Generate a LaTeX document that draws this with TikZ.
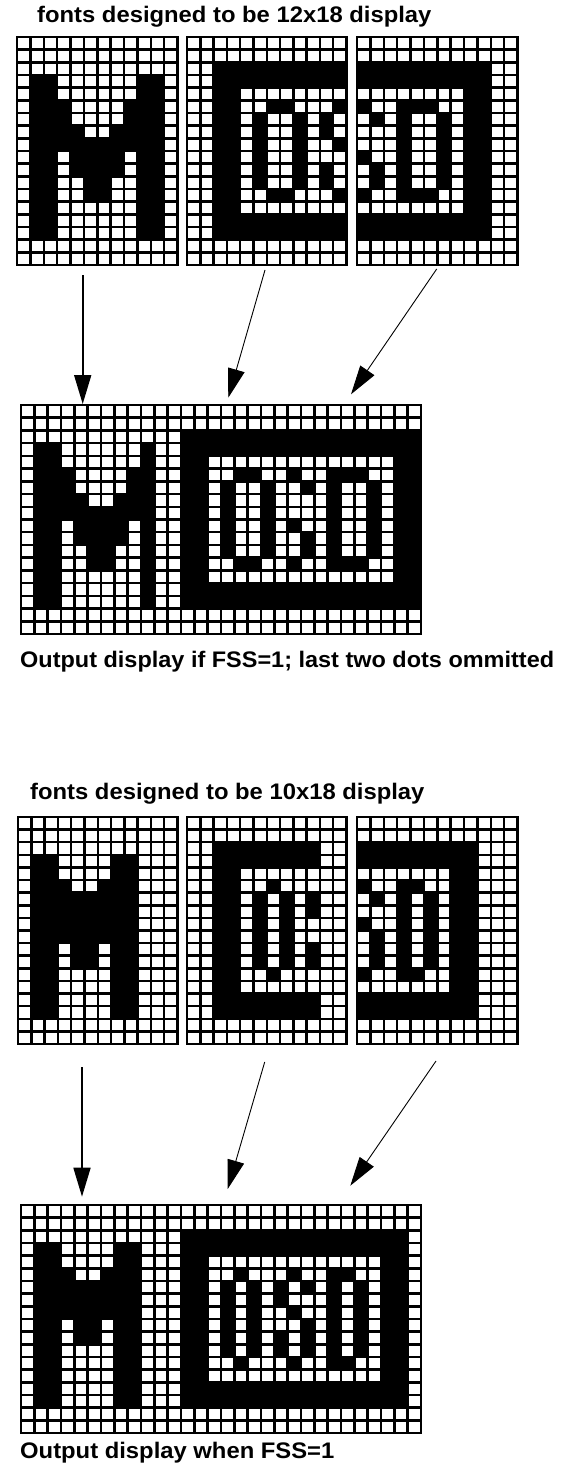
\documentclass[tikz,border=0pt]{standalone}
\usepackage{fontspec}
\setmainfont{Liberation Sans}
\usetikzlibrary{arrows.meta}
\tikzset{
  gridline/.style={draw=black,line width=2.5pt,line cap=rect},
  gridframe/.style={gridline,rectangle,fill=none,inner sep=0pt,outer sep=0pt,anchor=north west},
  caption/.style={anchor=base west,inner sep=0pt,font=\bfseries\fontsize{22.5}{25}\selectfont,text=black,xscale=#1,transform shape},
  caption/.default=1.058,
  thickarrow/.style={draw=black,line width=1.7pt,-{Triangle[length=29pt,width=17pt]}},
  thinarrow/.style={draw=black,line width=0.9pt,-{Triangle[length=29pt,width=17pt]}}
}
\newcount\cellcol
\def\parserow#1{\ifx#1;\else\if#1X\fill[black] (\the\cellcol,\ri) rectangle ++(1,1);\fi\global\advance\cellcol by 1 \expandafter\parserow\fi}
% name, x0, y0, x1, y1, cols, rows
\newcommand{\pixgrid}[7]{%
  \pgfmathsetmacro{\gw}{(#4-#2)/#6}%
  \pgfmathsetmacro{\gh}{(#5-#3)/18}%
  \begin{scope}[shift={(#2,#3)},x=\gw pt,y=-\gh pt]
    \foreach \rowstr [count=\ri from 0] in {#7}{%
      \global\cellcol=0 \expandafter\parserow\rowstr;%
    }
    \foreach \i in {1,...,#6}{\draw[gridline,line cap=butt] (\i,0) -- (\i,18);}
    \foreach \j in {1,...,17}{\draw[gridline,line cap=butt] (0,\j) -- (#6,\j);}
  \end{scope}
  \pgfmathsetmacro{\fw}{#4-#2}\pgfmathsetmacro{\fh}{#5-#3}%
  \node[gridframe,minimum width=\fw pt,minimum height=\fh pt] (#1) at (#2,#3) {};
}
\begin{document}
\begin{tikzpicture}[x=1pt,y=-1pt]
\useasboundingbox (0,0) rectangle (578,1463);
\fill[white] (0,0) rectangle (578,1463);

\node[caption] (title1) at (37,22.5) {fonts designed to be 12x18 display};
\pixgrid{gA}{17}{37}{177.5}{265}{12}{
oooooooooooo,oooooooooooo,oooooooooooo,
oXXooooooXXo,oXXooooooXXo,oXXXooooXXXo,oXXXooooXXXo,oXXXXooXXXXo,oXXXXXXXXXXo,
oXXoXXXXoXXo,oXXoXXXXoXXo,oXXooXXooXXo,oXXooXXooXXo,
oXXooooooXXo,oXXooooooXXo,oXXooooooXXo,oooooooooooo,oooooooooooo}
\pixgrid{gB}{187}{37}{346.5}{265}{12}{
oooooooooooo,oooooooooooo,ooXXXXXXXXXX,ooXXXXXXXXXX,ooXXoooooooo,
ooXXooXXoooX,ooXXoXooXoXo,ooXXoXooXoXo,ooXXoXooXooX,ooXXoXooXooo,
ooXXoXooXoXo,ooXXoXooXoXo,ooXXooXXoooX,ooXXoooooooo,
ooXXXXXXXXXX,ooXXXXXXXXXX,oooooooooooo,oooooooooooo}
\pixgrid{gC}{357}{37}{517.5}{265}{12}{
oooooooooooo,oooooooooooo,XXXXXXXXXXoo,XXXXXXXXXXoo,ooooooooXXoo,
XooXXXooXXoo,oXoXooXoXXoo,oooXooXoXXoo,oooXooXoXXoo,XooXooXoXXoo,
oXoXooXoXXoo,oXoXooXoXXoo,XooXXXooXXoo,ooooooooXXoo,
XXXXXXXXXXoo,XXXXXXXXXXoo,oooooooooooo,oooooooooooo}
\pixgrid{gD}{21}{405}{421}{634}{30}{
oooooooooooooooooooooooooooooo,oooooooooooooooooooooooooooooo,
ooooooooooooXXXXXXXXXXXXXXXXXX,
oXXooooooXooXXXXXXXXXXXXXXXXXX,
oXXooooooXooXXooooooooooooooXX,
oXXXooooXXooXXooXXooXooXXXooXX,
oXXXooooXXooXXoXooXooXoXooXoXX,
oXXXXooXXXooXXoXooXooooXooXoXX,
oXXXXXXXXXooXXoXooXooooXooXoXX,
oXXoXXXXoXooXXoXooXoXooXooXoXX,
oXXoXXXXoXooXXoXooXooXoXooXoXX,
oXXooXXooXooXXoXooXooXoXooXoXX,
oXXooXXooXooXXooXXooXooXXXooXX,
oXXooooooXooXXooooooooooooooXX,
oXXooooooXooXXXXXXXXXXXXXXXXXX,
oXXooooooXooXXXXXXXXXXXXXXXXXX,
oooooooooooooooooooooooooooooo,oooooooooooooooooooooooooooooo}
\node[caption=1.043] (output1) at (20,667) {Output display if FSS=1; last two dots ommitted};

\node[caption] (title2) at (30,799.5) {fonts designed to be 10x18 display};
\pixgrid{gE}{18}{817}{177.5}{1044}{12}{
oooooooooooo,oooooooooooo,oooooooooooo,
oXXooooXXooo,oXXooooXXooo,oXXXooXXXooo,
oXXXXXXXXooo,oXXXXXXXXooo,oXXXXXXXXooo,oXXXXXXXXooo,
oXXoXXoXXooo,oXXoXXoXXooo,
oXXooooXXooo,oXXooooXXooo,oXXooooXXooo,oXXooooXXooo,
oooooooooooo,oooooooooooo}
\pixgrid{gF}{187}{817}{346.5}{1044}{12}{
oooooooooooo,oooooooooooo,ooXXXXXXXXoo,ooXXXXXXXXoo,ooXXoooooooo,
ooXXooXooooo,ooXXoXoXoXoo,ooXXoXoXoXoo,ooXXoXoXoooo,ooXXoXoXoooo,
ooXXoXoXoXoo,ooXXoXoXoXoo,ooXXooXooooo,ooXXoooooooo,
ooXXXXXXXXoo,ooXXXXXXXXoo,oooooooooooo,oooooooooooo}
\pixgrid{gG}{357}{817}{517.5}{1044}{12}{
oooooooooooo,oooooooooooo,XXXXXXXXXooo,XXXXXXXXXooo,oooooooXXooo,
XooXXooXXooo,oXoXoXoXXooo,oooXoXoXXooo,XooXoXoXXooo,oXoXoXoXXooo,
oXoXoXoXXooo,oXoXoXoXXooo,XooXXooXXooo,oooooooXXooo,
XXXXXXXXXooo,XXXXXXXXXooo,oooooooooooo,oooooooooooo}
\pixgrid{gH}{21}{1205}{421}{1433}{30}{
oooooooooooooooooooooooooooooo,oooooooooooooooooooooooooooooo,
ooooooooooooXXXXXXXXXXXXXXXXXo,
oXXooooXXoooXXXXXXXXXXXXXXXXXo,
oXXooooXXoooXXoooooooooooooXXo,
oXXXooXXXoooXXooXoooXooXXooXXo,
oXXXXXXXXoooXXoXoXoXoXoXoXoXXo,
oXXXXXXXXoooXXoXoXoXoooXoXoXXo,
oXXXXXXXXoooXXoXoXooXooXoXoXXo,
oXXoXXoXXoooXXoXoXoooXoXoXoXXo,
oXXoXXoXXoooXXoXoXoXoXoXoXoXXo,
oXXooooXXoooXXoXoXoXoXoXoXoXXo,
oXXooooXXoooXXooXoooXooXXooXXo,
oXXooooXXoooXXoooooooooooooXXo,
oXXooooXXoooXXXXXXXXXXXXXXXXXo,
oXXooooXXoooXXXXXXXXXXXXXXXXXo,
oooooooooooooooooooooooooooooo,oooooooooooooooooooooooooooooo}
\node[caption] (output2) at (20,1458) {Output display when FSS=1};

\coordinate (a1s) at (82.7,275);  \coordinate (a1e) at (82.7,404);
\coordinate (a2s) at (265,270);   \coordinate (a2e) at (228.3,397.7);
\coordinate (a3s) at (436.7,269); \coordinate (a3e) at (351,394.3);
\coordinate (b1s) at (82,1067);   \coordinate (b1e) at (82,1196.7);
\coordinate (b2s) at (264.7,1062);\coordinate (b2e) at (227.7,1189);
\coordinate (b3s) at (436,1061);  \coordinate (b3e) at (350.3,1185.7);
\draw[thickarrow] (a1s) -- (a1e);
\draw[thinarrow] (a2s) -- (a2e);
\draw[thinarrow] (a3s) -- (a3e);
\draw[thickarrow] (b1s) -- (b1e);
\draw[thinarrow] (b2s) -- (b2e);
\draw[thinarrow] (b3s) -- (b3e);
\end{tikzpicture}
\end{document}
